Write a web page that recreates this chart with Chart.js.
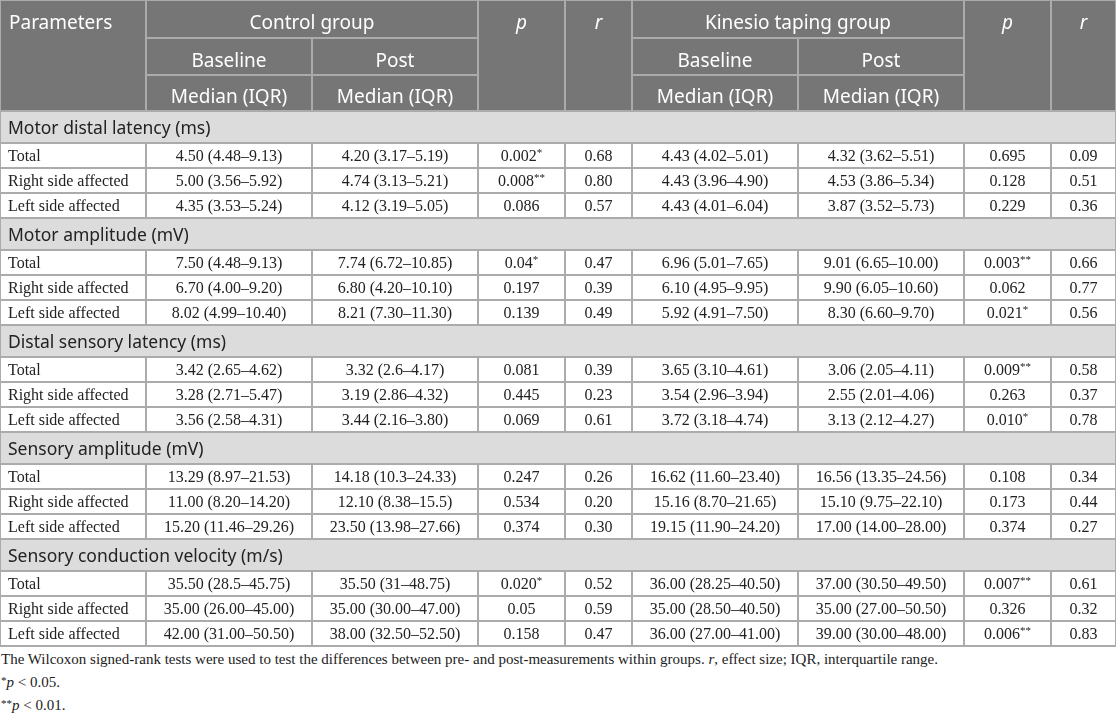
<!DOCTYPE html>
<html>
<head>
<meta charset="utf-8">
<script src="https://cdn.jsdelivr.net/npm/chart.js@4.4.1/dist/chart.umd.min.js"></script>
<style>
  html, body { margin:0; padding:0; background:#fff; }
  #wrap { position:relative; width:1116px; height:648px; }
  .notes { font-family:"Liberation Serif", serif; font-size:15px; color:#222; line-height:23px; padding-left:1px; }
  .notes sup { font-size:11px; vertical-align:3px; line-height:0; }
</style>
</head>
<body>
<div id="wrap"><canvas id="tbl" width="1116" height="648"></canvas></div>
<div class="notes">
  <div>The Wilcoxon signed-rank tests were used to test the differences between pre- and post-measurements within groups. <i>r</i>, effect size; IQR, interquartile range.</div>
  <div><sup>*</sup><i>p</i> &lt; 0.05.</div>
  <div><sup>**</sup><i>p</i> &lt; 0.01.</div>
</div>
<script>
// table content
const sections = ['Motor distal latency (ms)', 'Motor amplitude (mV)', 'Distal sensory latency (ms)', 'Sensory amplitude (mV)', 'Sensory conduction velocity (m/s)'];
const subgroups = ['Total', 'Right side affected', 'Left side affected'];
const groups = ['Control group', 'Kinesio taping group'];
const timepoints = ['Baseline', 'Post'];
const statLabel = 'Median (IQR)';

const ctrlBaseline = ['4.50 (4.48–9.13)', '5.00 (3.56–5.92)', '4.35 (3.53–5.24)',
  '7.50 (4.48–9.13)', '6.70 (4.00–9.20)', '8.02 (4.99–10.40)',
  '3.42 (2.65–4.62)', '3.28 (2.71–5.47)', '3.56 (2.58–4.31)',
  '13.29 (8.97–21.53)', '11.00 (8.20–14.20)', '15.20 (11.46–29.26)',
  '35.50 (28.5–45.75)', '35.00 (26.00–45.00)', '42.00 (31.00–50.50)'];
const ctrlPost = ['4.20 (3.17–5.19)', '4.74 (3.13–5.21)', '4.12 (3.19–5.05)',
  '7.74 (6.72–10.85)', '6.80 (4.20–10.10)', '8.21 (7.30–11.30)',
  '3.32 (2.6–4.17)', '3.19 (2.86–4.32)', '3.44 (2.16–3.80)',
  '14.18 (10.3–24.33)', '12.10 (8.38–15.5)', '23.50 (13.98–27.66)',
  '35.50 (31–48.75)', '35.00 (30.00–47.00)', '38.00 (32.50–52.50)'];
const ctrlP = ['0.002*', '0.008**', '0.086', '0.04*', '0.197', '0.139', '0.081', '0.445', '0.069',
  '0.247', '0.534', '0.374', '0.020*', '0.05', '0.158'];
const ctrlR = ['0.68', '0.80', '0.57', '0.47', '0.39', '0.49', '0.39', '0.23', '0.61',
  '0.26', '0.20', '0.30', '0.52', '0.59', '0.47'];
const ktBaseline = ['4.43 (4.02–5.01)', '4.43 (3.96–4.90)', '4.43 (4.01–6.04)',
  '6.96 (5.01–7.65)', '6.10 (4.95–9.95)', '5.92 (4.91–7.50)',
  '3.65 (3.10–4.61)', '3.54 (2.96–3.94)', '3.72 (3.18–4.74)',
  '16.62 (11.60–23.40)', '15.16 (8.70–21.65)', '19.15 (11.90–24.20)',
  '36.00 (28.25–40.50)', '35.00 (28.50–40.50)', '36.00 (27.00–41.00)'];
const ktPost = ['4.32 (3.62–5.51)', '4.53 (3.86–5.34)', '3.87 (3.52–5.73)',
  '9.01 (6.65–10.00)', '9.90 (6.05–10.60)', '8.30 (6.60–9.70)',
  '3.06 (2.05–4.11)', '2.55 (2.01–4.06)', '3.13 (2.12–4.27)',
  '16.56 (13.35–24.56)', '15.10 (9.75–22.10)', '17.00 (14.00–28.00)',
  '37.00 (30.50–49.50)', '35.00 (27.00–50.50)', '39.00 (30.00–48.00)'];
const ktP = ['0.695', '0.128', '0.229', '0.003**', '0.062', '0.021*', '0.009**', '0.263', '0.010*',
  '0.108', '0.173', '0.374', '0.007**', '0.326', '0.006**'];
const ktR = ['0.09', '0.51', '0.36', '0.66', '0.77', '0.56', '0.58', '0.37', '0.78',
  '0.34', '0.44', '0.27', '0.61', '0.32', '0.83'];

// layout
const colW = [146, 166, 166, 87, 67, 166, 166, 87, 65];
const headH = [38, 37, 36];
const secH = 32, rowH = 25;
const lineCol = '#ababab', headBg = '#767676', secBg = '#dcdcdc', ink = '#222';
const sans = '"Noto Sans", "Open Sans", sans-serif';
const serif = '"Liberation Serif", serif';

const colX = colW.reduce((a, w) => { a.push(a[a.length - 1] + w); return a; }, [0]);
const totalW = colX[colX.length - 1];
const headTotal = headH.reduce((a, b) => a + b, 0);

const rows = [];
let yAcc = headTotal;
sections.forEach((s, si) => {
  rows.push({ type:'sec', label:s, top:yAcc, h:secH }); yAcc += secH;
  subgroups.forEach((g, gi) => {
    rows.push({ type:'data', i:si * subgroups.length + gi, label:g, top:yAcc, h:rowH }); yAcc += rowH;
  });
});
const totalH = yAcc;
const dataCols = [ctrlBaseline, ctrlPost, ctrlP, ctrlR, ktBaseline, ktPost, ktP, ktR];

function starText(ctx, txt, cx, cy) {
  const m = txt.match(/^(.*?)(\*+)$/);
  const main = m ? m[1] : txt, stars = m ? m[2] : '';
  ctx.font = '16px ' + serif;
  const w1 = ctx.measureText(main).width;
  ctx.font = '11px ' + serif;
  const w2 = stars ? ctx.measureText(stars).width : 0;
  const x0 = cx - (w1 + w2) / 2;
  ctx.textAlign = 'left';
  ctx.font = '16px ' + serif;
  ctx.fillText(main, x0, cy);
  if (stars) { ctx.font = '11px ' + serif; ctx.fillText(stars, x0 + w1, cy - 3); }
}

const tablePlugin = {
  id: 'table',
  afterDraw(chart) {
    const { ctx, scales: { x, y } } = chart;
    const X = v => x.getPixelForValue(v), Y = v => y.getPixelForValue(v);
    const hline = (x0, x1, yy) => { ctx.beginPath(); ctx.moveTo(X(x0), Y(yy)); ctx.lineTo(X(x1), Y(yy)); ctx.stroke(); };
    const vline = (xx, y0, y1) => { ctx.beginPath(); ctx.moveTo(X(xx), Y(y0)); ctx.lineTo(X(xx), Y(y1)); ctx.stroke(); };
    const midX = (a, b) => (X(colX[a]) + X(colX[b])) / 2;
    ctx.save();

    // backgrounds
    ctx.fillStyle = headBg;
    ctx.fillRect(X(0), Y(0), X(totalW) - X(0), Y(headTotal) - Y(0));
    ctx.fillStyle = secBg;
    rows.filter(r => r.type === 'sec').forEach(r => ctx.fillRect(X(0), Y(r.top), X(totalW) - X(0), Y(r.top + r.h) - Y(r.top)));

    // grid
    ctx.strokeStyle = lineCol; ctx.lineWidth = 2;
    hline(0, totalW, 0);
    vline(0, 0, totalH); vline(totalW, 0, totalH);
    [1, 3, 4, 5, 7, 8].forEach(c => vline(colX[c], 0, headTotal));
    [2, 6].forEach(c => vline(colX[c], headH[0], headTotal));
    [headH[0], headH[0] + headH[1]].forEach(yy => { hline(colX[1], colX[3], yy); hline(colX[5], colX[7], yy); });
    hline(0, totalW, headTotal);
    rows.forEach(r => {
      hline(0, totalW, r.top + r.h);
      if (r.type === 'data') for (let c = 1; c < colW.length; c++) vline(colX[c], r.top, r.top + r.h);
    });

    // header text
    ctx.textBaseline = 'middle'; ctx.fillStyle = '#fff';
    const hy = k => (Y(headH.slice(0, k).reduce((a, b) => a + b, 0)) + Y(headH.slice(0, k + 1).reduce((a, b) => a + b, 0))) / 2 + 5;
    ctx.font = '19px ' + sans;
    ctx.textAlign = 'left'; ctx.fillText('Parameters', X(0) + 9, hy(0));
    ctx.textAlign = 'center';
    ctx.fillText(groups[0], midX(1, 3), hy(0));
    ctx.fillText(groups[1], midX(5, 7), hy(0));
    [1, 2, 5, 6].forEach((c, k) => {
      ctx.fillText(timepoints[k % 2], midX(c, c + 1), hy(1));
      ctx.fillText(statLabel, midX(c, c + 1), hy(2));
    });
    ctx.font = 'italic 19px ' + sans;
    [[3, 'p'], [4, 'r'], [7, 'p'], [8, 'r']].forEach(([c, t]) => ctx.fillText(t, midX(c, c + 1), hy(0)));

    // body text
    ctx.fillStyle = ink;
    rows.forEach(r => {
      const cy = (Y(r.top) + Y(r.top + r.h)) / 2;
      if (r.type === 'sec') {
        ctx.font = '17.5px ' + sans; ctx.textAlign = 'left';
        ctx.fillText(r.label, X(0) + 8, cy + 2);
      } else {
        ctx.font = '16px ' + serif; ctx.textAlign = 'left';
        ctx.fillText(r.label, X(0) + 8, cy + 1);
        dataCols.forEach((col, k) => starText(ctx, col[r.i], midX(k + 1, k + 2), cy + 1));
      }
    });
    ctx.restore();
  }
};

new Chart(document.getElementById('tbl'), {
  type: 'scatter',
  data: { datasets: [] },
  options: {
    responsive: false, animation: false,
    layout: { padding: 0 },
    plugins: { legend: { display: false }, tooltip: { enabled: false } },
    scales: {
      x: { type: 'linear', min: 0, max: totalW, display: false },
      y: { type: 'linear', min: 0, max: 648, reverse: true, display: false }
    }
  },
  plugins: [tablePlugin]
});
</script>
</body>
</html>
